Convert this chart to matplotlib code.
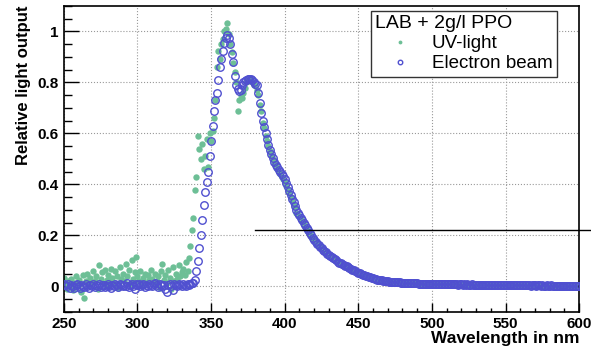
import numpy as np
import matplotlib.pyplot as plt
from matplotlib.ticker import MultipleLocator

# wavelength grid in nm (1 nm steps)
wavelength = np.arange(250, 601, 1)

# UV-light excitation, values
uv_light = [
    0.035, 0.010, -0.010, 0.020, 0.005, 0.030, -0.015, 0.015, 0.040, 0.000,
    0.025, 0.010, -0.020, 0.045, -0.045, 0.020, 0.050, 0.005, 0.035, 0.015,
    0.060, 0.020, 0.040, -0.010, 0.085, 0.030, 0.055, 0.010, 0.065, 0.025,
    0.045, 0.005, 0.070, 0.035, 0.015, 0.060, 0.040, -0.005, 0.075, 0.030,
    0.050, 0.020, 0.090, 0.040, 0.065, 0.010, 0.105, 0.030, 0.055, 0.115,
    0.040, 0.020, 0.060, 0.000, 0.035, 0.050, 0.015, 0.045, 0.025, 0.065,
    0.030, 0.010, 0.050, 0.020, 0.040, -0.005, 0.060, 0.090, 0.025, 0.045,
    0.015, 0.065, 0.035, -0.010, 0.075, 0.020, 0.050, 0.030, 0.085, 0.040,
    0.055, 0.070, 0.045, 0.095, 0.060, 0.110, 0.160, 0.220, 0.270, 0.380,
    0.430, 0.590, 0.540, 0.500, 0.560, 0.460, 0.510, 0.580, 0.470, 0.600,
    0.570, 0.610, 0.660, 0.730, 0.860, 0.925, 0.890, 0.950, 0.970, 1.000,
    1.010, 1.035, 0.990, 0.950, 0.920, 0.875, 0.840, 0.800, 0.690, 0.730,
    0.750, 0.740, 0.760, 0.780, 0.800, 0.810, 0.805, 0.815, 0.800, 0.790,
    0.790, 0.770, 0.750, 0.710, 0.690, 0.640, 0.620, 0.590, 0.570, 0.550,
    0.530, 0.515, 0.500, 0.485, 0.475, 0.460, 0.450, 0.440, 0.430, 0.420,
    0.410, 0.395, 0.380, 0.365, 0.350, 0.340, 0.320, 0.310, 0.290, 0.280,
    0.275, 0.265, 0.255, 0.245, 0.235, 0.225, 0.215, 0.205, 0.195, 0.188,
    0.180, 0.176, 0.168, 0.160, 0.156, 0.149, 0.146, 0.138, 0.135, 0.128,
    0.125, 0.118, 0.115, 0.109, 0.107, 0.101, 0.099, 0.093, 0.092, 0.086,
    0.085, 0.081, 0.078, 0.074, 0.072, 0.068, 0.066, 0.062, 0.060, 0.056,
    0.054, 0.050, 0.049, 0.046, 0.045, 0.042, 0.041, 0.038, 0.037, 0.034,
    0.033, 0.030, 0.029, 0.026, 0.026, 0.024, 0.024, 0.022, 0.022, 0.020,
    0.020, 0.018, 0.019, 0.017, 0.018, 0.016, 0.017, 0.015, 0.016, 0.014,
    0.015, 0.013, 0.014, 0.013, 0.013, 0.012, 0.013, 0.011, 0.012, 0.011,
    0.012, 0.010, 0.011, 0.010, 0.011, 0.009, 0.010, 0.009, 0.010, 0.009,
    0.010, 0.008, 0.010, 0.008, 0.009, 0.008, 0.010, 0.008, 0.008, 0.008,
    0.009, 0.007, 0.009, 0.007, 0.008, 0.008, 0.008, 0.007, 0.007, 0.007,
    0.008, 0.006, 0.008, 0.006, 0.008, 0.006, 0.007, 0.007, 0.007, 0.006,
    0.007, 0.005, 0.007, 0.006, 0.006, 0.006, 0.006, 0.005, 0.007, 0.005,
    0.006, 0.005, 0.005, 0.005, 0.006, 0.004, 0.006, 0.004, 0.006, 0.004,
    0.005, 0.005, 0.005, 0.004, 0.004, 0.004, 0.005, 0.003, 0.005, 0.004,
    0.004, 0.004, 0.004, 0.003, 0.005, 0.003, 0.004, 0.002, 0.004, 0.003,
    0.004, 0.002, 0.004, 0.003, 0.003, 0.003, 0.003, 0.002, 0.004, 0.002,
    0.003, 0.003, 0.003, 0.002, 0.002, 0.002, 0.003, 0.001, 0.003, 0.002,
    0.002, 0.002, 0.003, 0.001, 0.003, 0.001, 0.002, 0.002, 0.002, 0.001,
    0.002,
]

# electron beam excitation
electron_beam = [
    0.010, 0.005, 0.000, 0.008, -0.004, 0.006, 0.002, -0.006, 0.004, 0.010,
    0.000, -0.005, 0.007, 0.003, -0.002, 0.009, 0.001, -0.004, 0.006, 0.002,
    0.008, -0.003, 0.004, 0.000, 0.011, -0.002, 0.005, 0.007, -0.001, 0.003,
    0.009, 0.002, -0.004, 0.006, 0.001, 0.008, 0.004, -0.002, 0.010, 0.005,
    0.000, 0.007, 0.003, 0.012, -0.001, 0.006, 0.009, 0.002, -0.010, 0.008,
    0.004, 0.011, 0.001, 0.006, 0.009, -0.002, 0.007, 0.003, 0.010, 0.005,
    0.000, 0.008, 0.012, 0.004, -0.003, 0.009, 0.006, 0.002, 0.007, -0.008,
    -0.020, 0.005, 0.010, 0.003, -0.012, 0.008, 0.004, 0.001, 0.009, 0.006,
    0.003, 0.008, 0.005, 0.002, 0.010, 0.006, 0.008, 0.012, 0.015, 0.025,
    0.060, 0.100, 0.150, 0.200, 0.260, 0.320, 0.370, 0.410, 0.450, 0.510,
    0.570, 0.630, 0.690, 0.730, 0.760, 0.810, 0.860, 0.890, 0.925, 0.955,
    0.975, 0.985, 0.975, 0.950, 0.910, 0.880, 0.825, 0.790, 0.775, 0.765,
    0.770, 0.790, 0.800, 0.805, 0.810, 0.815, 0.815, 0.812, 0.810, 0.800,
    0.795, 0.790, 0.760, 0.720, 0.680, 0.650, 0.625, 0.600, 0.580, 0.555,
    0.535, 0.520, 0.505, 0.490, 0.478, 0.468, 0.458, 0.448, 0.440, 0.432,
    0.420, 0.405, 0.390, 0.375, 0.360, 0.345, 0.330, 0.315, 0.300, 0.290,
    0.280, 0.270, 0.260, 0.250, 0.240, 0.230, 0.220, 0.210, 0.200, 0.190,
    0.182, 0.175, 0.168, 0.161, 0.155, 0.150, 0.145, 0.139, 0.134, 0.129,
    0.124, 0.119, 0.114, 0.110, 0.106, 0.102, 0.098, 0.094, 0.091, 0.087,
    0.086, 0.082, 0.079, 0.075, 0.072, 0.069, 0.066, 0.063, 0.060, 0.057,
    0.054, 0.051, 0.049, 0.047, 0.045, 0.043, 0.041, 0.039, 0.037, 0.035,
    0.033, 0.031, 0.029, 0.027, 0.026, 0.025, 0.024, 0.023, 0.022, 0.021,
    0.020, 0.019, 0.019, 0.018, 0.018, 0.017, 0.017, 0.016, 0.016, 0.015,
    0.015, 0.014, 0.014, 0.014, 0.013, 0.013, 0.013, 0.012, 0.012, 0.012,
    0.012, 0.011, 0.011, 0.011, 0.011, 0.010, 0.010, 0.010, 0.010, 0.010,
    0.010, 0.009, 0.010, 0.009, 0.009, 0.009, 0.010, 0.009, 0.008, 0.009,
    0.009, 0.008, 0.009, 0.008, 0.008, 0.009, 0.008, 0.008, 0.007, 0.008,
    0.008, 0.007, 0.008, 0.007, 0.008, 0.007, 0.007, 0.008, 0.007, 0.007,
    0.007, 0.006, 0.007, 0.007, 0.006, 0.007, 0.006, 0.006, 0.007, 0.006,
    0.006, 0.006, 0.005, 0.006, 0.006, 0.005, 0.006, 0.005, 0.006, 0.005,
    0.005, 0.006, 0.005, 0.005, 0.004, 0.005, 0.005, 0.004, 0.005, 0.005,
    0.004, 0.005, 0.004, 0.004, 0.005, 0.004, 0.004, 0.003, 0.004, 0.004,
    0.004, 0.003, 0.004, 0.004, 0.003, 0.004, 0.003, 0.003, 0.004, 0.003,
    0.003, 0.004, 0.003, 0.003, 0.002, 0.003, 0.003, 0.002, 0.003, 0.003,
    0.002, 0.003, 0.003, 0.002, 0.003, 0.002, 0.002, 0.003, 0.002, 0.002,
    0.003,
]

# stray horizontal line in the original figure
line_level = 0.22
line_start = 380

plt.rcParams['font.family'] = ['Liberation Sans', 'DejaVu Sans']

fig = plt.figure(figsize=(5.91, 3.49), dpi=100)
ax = fig.add_axes([0.108, 0.106, 0.872, 0.877])

ax.plot(wavelength, uv_light, 'o', color='#6dbf96', ms=4.6, mew=0,
        label='UV-light', zorder=2)
ax.plot(wavelength, electron_beam, 'o', mfc='none', mec='#5050d0', ms=5.4,
        mew=1.0, label='Electron beam', zorder=3)

ax.set_xlim(250, 600)
ax.set_ylim(-0.1, 1.1)
ax.xaxis.set_major_locator(MultipleLocator(50))
ax.xaxis.set_minor_locator(MultipleLocator(10))
ax.yaxis.set_major_locator(MultipleLocator(0.2))
ax.yaxis.set_minor_locator(MultipleLocator(0.05))
ax.yaxis.set_major_formatter(lambda v, p: f'{v:g}' if abs(v) > 1e-9 else '0')

ax.tick_params(axis='both', which='both', direction='in', labelsize=11,
               width=1)
ax.tick_params(axis='x', which='major', length=6.5)
ax.tick_params(axis='x', which='minor', length=3)
ax.tick_params(axis='y', which='major', length=11)
ax.tick_params(axis='y', which='minor', length=6)
for lab in ax.get_xticklabels() + ax.get_yticklabels():
    lab.set_fontweight('bold')

ax.grid(True, which='major', ls=':', color='#999999', lw=0.8)
for s in ax.spines.values():
    s.set_linewidth(1.2)

ax.set_xlabel('Wavelength in nm', fontsize=12.5, fontweight='bold',
              loc='right', labelpad=0)
ax.set_ylabel('Relative light output', fontsize=12, fontweight='bold',
              loc='top', labelpad=5)

ax.axhline(line_level, xmin=(line_start - 250) / 350, xmax=1.03,
           color='black', lw=1, clip_on=False, zorder=4)

leg = ax.legend(title='LAB + 2g/l PPO', loc='upper right',
                bbox_to_anchor=(0.957, 0.985), fontsize=13.5, title_fontsize=14,
                alignment='left', fancybox=False, framealpha=1,
                edgecolor='#333333', borderpad=0.25, labelspacing=0.15,
                handletextpad=0.4, handlelength=2.6, borderaxespad=0,
                markerscale=0.6)
leg.get_frame().set_linewidth(1)

fig.savefig('out.png', dpi=100)
